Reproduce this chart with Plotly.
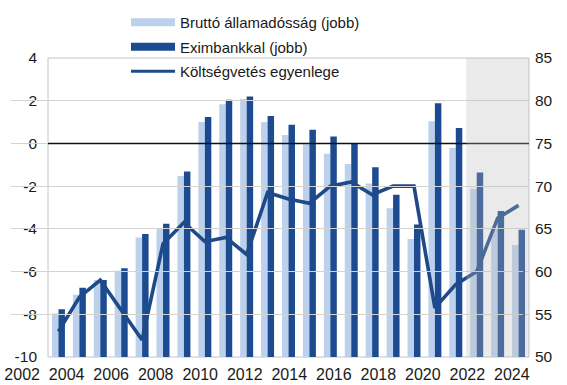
import plotly.graph_objects as go

# Years on the category axis
years = list(range(2002, 2025))
tick_years = list(range(2002, 2025, 2))

# Left-axis ticks (balance, % of GDP)
left_ticks = list(range(-10, 5, 2))

# Gross government debt, % of GDP (right axis)
gross_debt = [55.1, 57.3, 59.0, 60.1, 64.0, 65.0, 71.2, 77.5, 79.6, 80.2, 77.5, 76.0,
              74.9, 73.8, 72.6, 70.3, 67.4, 63.8, 77.6, 74.5, 69.7, 65.0, 63.1]

# Debt including Eximbank, % of GDP (right axis)
debt_exim = [55.6, 58.1, 59.0, 60.4, 64.4, 65.6, 71.7, 78.1, 80.1, 80.5, 78.2, 77.2,
             76.6, 75.8, 75.0, 72.2, 69.0, 65.5, 79.7, 76.8, 71.6, 67.1, 64.9]

# Budget balance, % of GDP (left axis)
balance = [-8.8, -7.2, -6.4, -7.8, -9.2, -4.7, -3.7, -4.6, -4.4, -5.2, -2.3, -2.6,
           -2.8, -2.0, -1.8, -2.4, -2.0, -2.0, -7.7, -6.6, -6.0, -3.5, -2.9]

# Forecast period shaded on the chart
forecast_start = 2022

names = ["Bruttó államadósság (jobb)", "Eximbankkal (jobb)", "Költségvetés egyenlege"]

LIGHT = "#BCD1EC"
DARK = "#1D4B91"
NAVY = "#1F4A8A"
GRID = "#D3D3D3"
FONT = "Liberation Sans, Arial, sans-serif"

fig = go.Figure()

# Debt bars on the right-hand axis
fig.add_bar(x=years, y=gross_debt, marker=dict(color=LIGHT, line=dict(width=0)),
            yaxis="y", showlegend=False, hoverinfo="skip")
fig.add_bar(x=years, y=debt_exim, marker=dict(color=DARK, line=dict(width=0)),
            yaxis="y", showlegend=False, hoverinfo="skip")

# Budget balance line on the left-hand axis
fig.add_scatter(x=years, y=balance, mode="lines", yaxis="y2",
                line=dict(color=NAVY, width=3.6), showlegend=False, hoverinfo="skip")

# Legend entries with wide swatches
for i, (nm, col, w) in enumerate(zip(names, [LIGHT, DARK, NAVY], [8, 8, 3.2])):
    fig.add_scatter(x=[None], y=[None], mode="lines", name=nm,
                    line=dict(color=col, width=w), legendgroup=f"g{i}",
                    yaxis="y", showlegend=True)

# Label-only axis for the year captions along the bottom
fig.add_scatter(x=years, y=[None] * len(years), mode="markers", xaxis="x2", yaxis="y",
                showlegend=False, hoverinfo="skip", marker=dict(opacity=0))

x_left = (48 - 10) / 519

fig.update_layout(
    width=567, height=385,
    margin=dict(l=10, r=38, t=58, b=28, autoexpand=False),
    paper_bgcolor="white", plot_bgcolor="rgba(0,0,0,0)",
    font=dict(family=FONT, color="#1a1a1a", size=15),
    barmode="group", bargap=0.38, bargroupgap=0.0,
    xaxis=dict(domain=[x_left, 1], range=[2001.5, 2024.5], showticklabels=False,
               showgrid=False, zeroline=False, ticks="", anchor="y"),
    xaxis2=dict(domain=[1 / 519, 513 / 519], range=[2001.5, 2024.5], anchor="y",
                tickvals=tick_years, ticktext=[str(y) for y in tick_years],
                showgrid=False, zeroline=False, showline=False, ticks="",
                tickfont=dict(size=16, color="#1a1a1a"), ticklabelstandoff=6),
    yaxis=dict(range=[50, 85], dtick=5, side="right", anchor="x",
               showgrid=True, gridcolor=GRID, gridwidth=1, zeroline=False,
               ticks="", tickfont=dict(size=15.5), ticklabelstandoff=5),
    yaxis2=dict(range=[-10, 4], overlaying="y", side="left", anchor="free",
                tickvals=left_ticks, ticktext=[str(v) for v in left_ticks],
                position=x_left, showgrid=False, zeroline=False, ticks="",
                tickfont=dict(size=15.5), ticklabelstandoff=11),
    legend=dict(x=(126 - 10) / 519, y=1 + 52 / 299, xanchor="left", yanchor="top",
                bgcolor="rgba(0,0,0,0)", font=dict(size=15, color="#1a1a1a"),
                itemwidth=44, tracegroupgap=2, traceorder="grouped"),
    shapes=[
        # plot frame
        dict(type="rect", xref="x domain", yref="y domain", x0=0, x1=1, y0=0, y1=1,
             line=dict(color="#C4C4C4", width=1), layer="below"),
        # zero line of the balance axis
        dict(type="line", xref="x domain", yref="y2", x0=0, x1=1, y0=0, y1=0,
             line=dict(color="#111111", width=1.5), layer="above"),
        # forecast period shading
        dict(type="rect", xref="x", yref="y domain", x0=forecast_start - 0.5, x1=2024.5,
             y0=0, y1=1, fillcolor="#B8B8B8", opacity=0.3, line=dict(width=0),
             layer="above"),
    ],
)

fig.write_html("out.html")
